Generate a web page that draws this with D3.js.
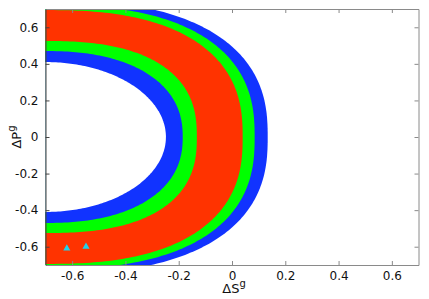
<!DOCTYPE html>
<html>
<head>
<meta charset="utf-8">
<script src="https://d3js.org/d3.v7.min.js"></script>
<style>
  body { margin: 0; background: #fff; }
  text { font-family: "DejaVu Sans", sans-serif; fill: #111; }
</style>
</head>
<body>
<script>
// band boundaries (centre of the rings is at dS = -0.7, dP = 0)
const centerS = -0.7;
const boundRx = [0.452, 0.515, 0.568, 0.740, 0.785, 0.834];
const boundRy = [0.410, 0.470, 0.525, 0.694, 0.722, 0.749];
const boundPow = [2.0, 2.3, 2.5, 2.5, 2.5, 2.5];
// fill inside each boundary, painted from the outside in
const boundFill = ["#ffffff", "#1133ff", "#00ff00", "#ff3300", "#00ff00", "#1133ff"];

// the two observed points
const obsS = [-0.62, -0.548];
const obsP = [-0.609, -0.600];

const xTicks = [-0.6, -0.4, -0.2, 0, 0.2, 0.4, 0.6];
const yTicks = [-0.6, -0.4, -0.2, 0, 0.2, 0.4, 0.6];

var width = 429, height = 299;
var margin = { top: 9, right: 10.5, bottom: 34, left: 45.5 };

var svg = d3
  .select("body")
  .append("svg")
  .attr("width", width)
  .attr("height", height);

var x = d3.scaleLinear().domain([-0.7, 0.7]).range([margin.left, width - margin.right]);
var y = d3.scaleLinear().domain([-0.7, 0.7]).range([height - margin.bottom, margin.top]);

svg
  .append("clipPath")
  .attr("id", "plotclip")
  .append("rect")
  .attr("x", x(-0.7))
  .attr("y", y(0.7))
  .attr("width", x(0.7) - x(-0.7))
  .attr("height", y(-0.7) - y(0.7));

// points of a super-ellipse around the centre
function ringPoints(rx, ry, p) {
  return d3.range(0, 361).map(function (i) {
    var t = (i * Math.PI) / 180;
    var c = Math.cos(t), s = Math.sin(t);
    return [
      centerS + rx * Math.sign(c) * Math.pow(Math.abs(c), 2 / p),
      ry * Math.sign(s) * Math.pow(Math.abs(s), 2 / p),
    ];
  });
}

var line = d3
  .line()
  .x((d) => x(d[0]))
  .y((d) => y(d[1]));

var rings = boundRx.map((rx, i) => ({ rx: rx, ry: boundRy[i], p: boundPow[i], fill: boundFill[i] }));

svg
  .append("g")
  .attr("clip-path", "url(#plotclip)")
  .selectAll("path")
  .data(rings.slice().reverse())
  .enter()
  .append("path")
  .attr("d", (d) => line(ringPoints(d.rx, d.ry, d.p)) + "Z")
  .attr("fill", (d) => d.fill)
  .attr("stroke", "none");

// observed points
svg
  .selectAll("obs")
  .data(obsS)
  .enter()
  .append("path")
  .attr("d", d3.symbol(d3.symbolTriangle).size(22))
  .attr("transform", (d, i) => "translate(" + x(d) + "," + y(obsP[i]) + ")")
  .attr("fill", "#22d2ea");

var fmt = (d) => (d === 0 ? "0" : d.toFixed(1));

// axes, ticks pointing inwards like the original
var gx = svg
  .append("g")
  .attr("transform", "translate(0," + y(-0.7) + ")")
  .call(d3.axisBottom(x).tickValues(xTicks).tickSizeInner(-4).tickSizeOuter(0).tickPadding(6).tickFormat(fmt));
var gxTop = svg
  .append("g")
  .attr("transform", "translate(0," + y(0.7) + ")")
  .call(d3.axisTop(x).tickValues(xTicks).tickSizeInner(-4).tickSizeOuter(0).tickFormat(""));
var gy = svg
  .append("g")
  .attr("transform", "translate(" + x(-0.7) + ",0)")
  .call(d3.axisLeft(y).tickValues(yTicks).tickSizeInner(-4).tickSizeOuter(0).tickPadding(7).tickFormat(fmt));
var gyRight = svg
  .append("g")
  .attr("transform", "translate(" + x(0.7) + ",0)")
  .call(d3.axisRight(y).tickValues(yTicks).tickSizeInner(-4).tickSizeOuter(0).tickFormat(""));

[gx, gxTop, gyRight].forEach(function (g) {
  g.selectAll("path, line").attr("stroke", "#8a8a8a");
});
gy.selectAll("path, line").attr("stroke", "#444");
svg.selectAll(".tick text").style("font-size", "12px").style("font-family", "DejaVu Sans, sans-serif").attr("fill", "#111");

// axis titles
var xt = svg
  .append("text")
  .attr("x", x(0) + 2)
  .attr("y", 293)
  .attr("text-anchor", "middle")
  .style("font-size", "13px");
xt.append("tspan").text("ΔS");
xt.append("tspan").attr("dy", -6).style("font-size", "10px").text("g");

var yt = svg
  .append("text")
  .attr("transform", "translate(21," + y(0) + ") rotate(-90)")
  .attr("text-anchor", "middle")
  .style("font-size", "13px");
yt.append("tspan").text("ΔP");
yt.append("tspan").attr("dy", -6).style("font-size", "10px").text("g");
</script>
</body>
</html>
